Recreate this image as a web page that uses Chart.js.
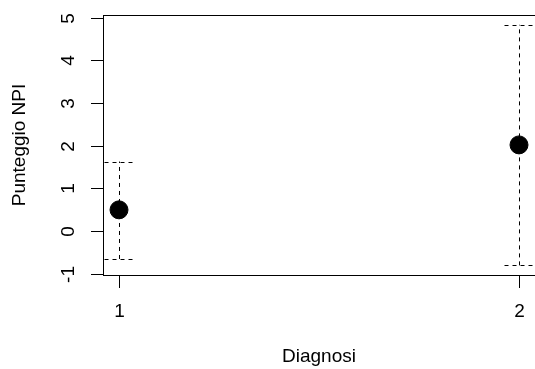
<!DOCTYPE html>
<html>
<head>
<meta charset="utf-8">
<script src="https://cdn.jsdelivr.net/npm/chart.js@4.4.0/dist/chart.umd.min.js"></script>
<style>
  html, body { margin: 0; padding: 0; background: #fff; overflow: hidden; }
  #wrap { width: 545px; height: 369px; }
</style>
</head>
<body>
<div id="wrap"><canvas id="myChart"></canvas></div>
<script>
const diagnosi = [1, 2];
const medie = [0.5, 2.02];
const limInf = [-0.65, -0.8];
const limSup = [1.63, 4.83];
const yTicks = [-1, 0, 1, 2, 3, 4, 5];
const xTicks = [1, 2];

const font = '19px "Liberation Sans", Arial, sans-serif';

const rPlot = {
  id: 'rPlot',
  beforeDatasetsDraw(chart) {
    const ctx = chart.ctx;
    const xs = chart.scales.x;
    const ys = chart.scales.y;
    const a = chart.chartArea;
    ctx.save();
    ctx.strokeStyle = '#000';
    ctx.lineWidth = 1;

    // barre di errore tratteggiate
    ctx.setLineDash([4, 4]);
    diagnosi.forEach((d, i) => {
      const px = Math.round(xs.getPixelForValue(d)) + 0.5;
      const yLo = ys.getPixelForValue(limInf[i]);
      const yHi = ys.getPixelForValue(limSup[i]);
      ctx.beginPath();
      ctx.moveTo(px, yLo);
      ctx.lineTo(px, yHi);
      ctx.moveTo(px - 15, Math.round(yHi) + 0.5);
      ctx.lineTo(px + 15, Math.round(yHi) + 0.5);
      ctx.moveTo(px - 15, Math.round(yLo) + 0.5);
      ctx.lineTo(px + 15, Math.round(yLo) + 0.5);
      ctx.stroke();
    });
    ctx.setLineDash([]);

    // riquadro
    ctx.strokeRect(Math.round(a.left) + 0.5, Math.round(a.top) + 0.5,
      Math.round(a.right - a.left), Math.round(a.bottom - a.top));

    // asse y
    ctx.fillStyle = '#000';
    ctx.font = font;
    ctx.textAlign = 'center';
    ctx.textBaseline = 'middle';
    yTicks.forEach(v => {
      const py = Math.round(ys.getPixelForValue(v)) + 0.5;
      ctx.beginPath();
      ctx.moveTo(a.left - 12, py);
      ctx.lineTo(a.left, py);
      ctx.stroke();
      ctx.save();
      ctx.translate(69, py);
      ctx.rotate(-Math.PI / 2);
      ctx.fillText(String(v), 0, 0);
      ctx.restore();
    });

    // asse x
    xTicks.forEach(v => {
      const px = Math.round(xs.getPixelForValue(v)) + 0.5;
      ctx.beginPath();
      ctx.moveTo(px, a.bottom);
      ctx.lineTo(px, a.bottom + 13);
      ctx.stroke();
      ctx.fillText(String(v), px, 312);
    });

    // titoli
    ctx.fillText('Diagnosi', (a.left + a.right) / 2, 357);
    ctx.save();
    ctx.translate(20, (a.top + a.bottom) / 2);
    ctx.rotate(-Math.PI / 2);
    ctx.fillText('Punteggio NPI', 0, 0);
    ctx.restore();
    ctx.restore();
  }
};

new Chart(document.getElementById('myChart'), {
  type: 'scatter',
  data: {
    datasets: [{
      data: diagnosi.map((d, i) => ({ x: d, y: medie[i] })),
      backgroundColor: '#000',
      borderColor: '#000',
      pointRadius: 9,
      pointHoverRadius: 9
    }]
  },
  options: {
    responsive: true,
    maintainAspectRatio: false,
    animation: false,
    layout: { padding: { left: 103, top: 15, right: 8, bottom: 94 } },
    plugins: { legend: { display: false }, tooltip: { enabled: false } },
    scales: {
      x: { type: 'linear', min: 0.96, max: 2.04, display: false },
      y: { type: 'linear', min: -1.025, max: 5.06, display: false }
    }
  },
  plugins: [rPlot]
});
</script>
</body>
</html>
